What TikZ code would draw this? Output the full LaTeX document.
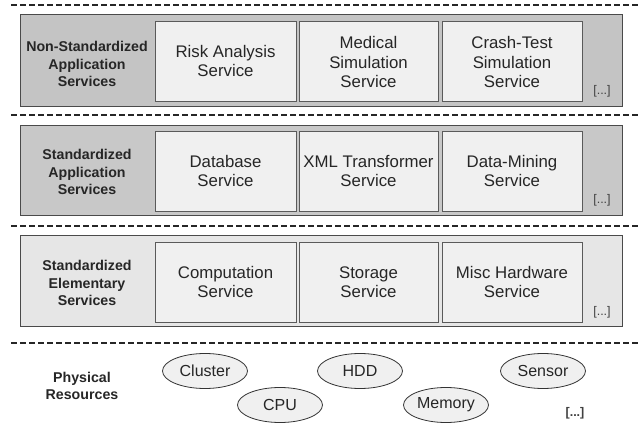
\documentclass[tikz,border=0pt]{standalone}
\usepackage{fontspec}
\setmainfont{Liberation Sans}
\usetikzlibrary{shapes.geometric}
\definecolor{layerdark}{HTML}{C4C4C4}
\definecolor{layermid}{HTML}{C8C8C8}
\definecolor{layerlight}{HTML}{E6E6E6}
\definecolor{boxfill}{HTML}{F0F0F0}
\definecolor{lineclr}{HTML}{4A4A4A}
\definecolor{boxline}{HTML}{5A5A5A}
\tikzset{
  sep/.style={line width=1.7pt, draw=black!85, dash pattern=on 6pt off 3pt},
  layer/.style={draw=lineclr, line width=1pt},
  svcbox/.style={draw=boxline, line width=0.9pt, fill=boxfill},
  svctext/.style={align=center, font=\fontsize{16.8}{19.5}\selectfont, text=black!85},
  lbl/.style={align=center, font=\bfseries\fontsize{14.2}{17.5}\selectfont, text=black!85},
  dots/.style={font=\fontsize{12.5}{14}\selectfont, text=black!75},
  res/.style={ellipse, draw=black!80, line width=0.8pt, fill=boxfill, minimum width=85pt, minimum height=35pt, inner sep=0pt, font=\fontsize{16}{18}\selectfont, text=black!85}
}
\begin{document}
\begin{tikzpicture}[x=1pt,y=-1pt]
\useasboundingbox (0,0) rectangle (640,430);
% separators
\coordinate (s1a) at (11,5);   \coordinate (s1b) at (640,5);
\coordinate (s2a) at (11,115); \coordinate (s2b) at (640,115);
\coordinate (s3a) at (11,226); \coordinate (s3b) at (640,226);
\coordinate (s4a) at (11,343); \coordinate (s4b) at (640,343);
\draw[sep] (s1a) -- (s1b);
\draw[sep] (s2a) -- (s2b);
\draw[sep] (s3a) -- (s3b);
\draw[sep] (s4a) -- (s4b);
% layer 1
\draw[layer, fill=layerdark] (20,15) rectangle (622,107);
\draw[svcbox] (155,21) rectangle (296,101);
\draw[svcbox] (299,21) rectangle (438,101);
\draw[svcbox] (442,21) rectangle (582,101);
\node[lbl] (l1) at (87,64) {Non-Standardized\\Application\\Services};
\node[svctext] (a1) at (225.5,61) {Risk Analysis\\Service};
\node[svctext] (a2) at (368.5,62) {Medical\\Simulation\\Service};
\node[svctext] (a3) at (512,62) {Crash-Test\\Simulation\\Service};
\node[dots] (d1) at (602,91) {[...]};
% layer 2
\draw[layer, fill=layermid] (20,126) rectangle (622,216);
\draw[svcbox] (155,131) rectangle (296,211);
\draw[svcbox] (299,131) rectangle (438,211);
\draw[svcbox] (442,131) rectangle (582,211);
\node[lbl] (l2) at (87,172) {Standardized\\Application\\Services};
\node[svctext] (b1) at (225.5,171) {Database\\Service};
\node[svctext] (b2) at (368.5,171) {XML Transformer\\Service};
\node[svctext] (b3) at (512,171) {Data-Mining\\Service};
\node[dots] (d2) at (602,200) {[...]};
% layer 3
\draw[layer, fill=layerlight] (20,236) rectangle (622,327);
\draw[svcbox] (155,242) rectangle (296,322);
\draw[svcbox] (299,242) rectangle (438,322);
\draw[svcbox] (442,242) rectangle (582,322);
\node[lbl] (l3) at (87,283) {Standardized\\Elementary\\Services};
\node[svctext] (c1) at (225.5,282) {Computation\\Service};
\node[svctext] (c2) at (368.5,282) {Storage\\Service};
\node[svctext] (c3) at (512,282) {Misc Hardware\\Service};
\node[dots] (d3) at (602,312) {[...]};
% physical resources
\node[lbl] (l4) at (82,386) {Physical\\Resources};
\node[res] (r1) at (205,371) {Cluster};
\node[res] (r2) at (280,405) {CPU};
\node[res] (r3) at (360,371) {HDD};
\node[res] (r4) at (446,405) {Memory};
\node[res] (r5) at (543,371) {Sensor};
\node[dots, font=\bfseries\fontsize{12.5}{14}\selectfont] (d4) at (575,413) {[...]};
\end{tikzpicture}
\end{document}
